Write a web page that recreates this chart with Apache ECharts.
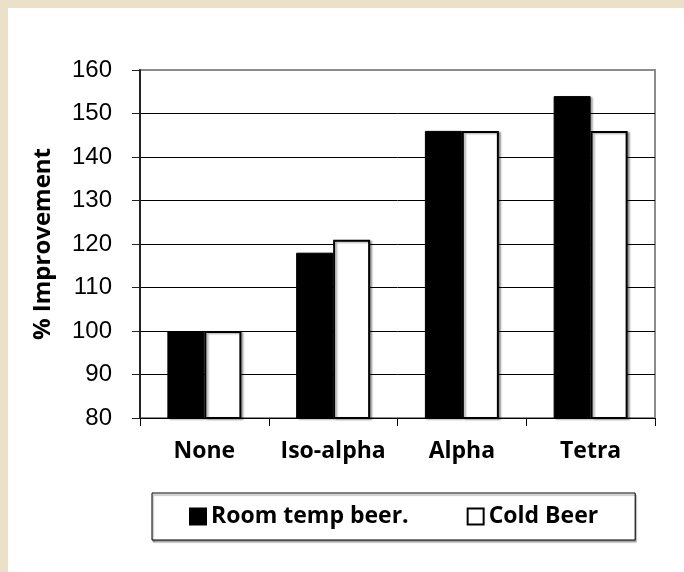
<!DOCTYPE html>
<html>
<head>
<meta charset="utf-8">
<script src="https://cdn.jsdelivr.net/npm/echarts@6/dist/echarts.min.js"></script>
<style>
  html, body { margin: 0; padding: 0; background: #ebe0c8; }
  #chart { position: absolute; left: 8px; top: 8px; width: 676px; height: 564px; background: #fff; }
</style>
</head>
<body>
<div id="chart"></div>
<script>
// data
const categories = ['None', 'Iso-alpha', 'Alpha', 'Tetra'];
const roomTemp = [100, 118, 146, 154];
const coldBeer = [100, 121, 146, 146];

const myChart = echarts.init(document.getElementById('chart'));

const barShadow = {
  shadowColor: 'rgba(0,0,0,0.35)',
  shadowOffsetX: 2,
  shadowOffsetY: 1,
  shadowBlur: 2
};

const option = {
  animation: false,
  grid: {
    left: 132, top: 62, right: 29, bottom: 154,
    show: true, borderColor: '#8c8c8c', borderWidth: 2
  },
  legend: {
    left: 144, top: 485,
    padding: [12, 37],
    borderColor: '#000', borderWidth: 1,
    shadowColor: 'rgba(0,0,0,0.4)', shadowOffsetX: 1, shadowOffsetY: 2, shadowBlur: 1,
    backgroundColor: '#fff',
    itemWidth: 16, itemHeight: 16, itemGap: 58,
    icon: 'rect',
    textStyle: { fontFamily: 'Open Sans', fontWeight: 'bold', fontSize: 23, color: '#000' },
    data: ['Room temp beer.', 'Cold Beer']
  },
  xAxis: {
    type: 'category',
    data: categories,
    axisLine: { lineStyle: { color: '#000', width: 1 } },
    axisTick: { show: true, length: 8, lineStyle: { color: '#000' } },
    axisLabel: { interval: 0, margin: 22, fontFamily: 'Open Sans', fontWeight: 'bold', fontSize: 23, color: '#000' }
  },
  yAxis: {
    type: 'value',
    min: 80, max: 160, interval: 10,
    name: '% Improvement',
    nameLocation: 'middle',
    nameRotate: 90,
    nameGap: 85,
    nameTextStyle: { fontFamily: 'Open Sans', fontWeight: 'bold', fontSize: 24, color: '#000' },
    axisLine: { show: true, lineStyle: { color: '#222', width: 2 } },
    axisTick: { show: true, length: 8, lineStyle: { color: '#222' } },
    axisLabel: { margin: 28, fontFamily: 'Liberation Sans', fontSize: 24, color: '#000' },
    splitLine: { show: true, showMaxLine: false, lineStyle: { color: '#000', width: 1 } }
  },
  series: [
    {
      name: 'Room temp beer.',
      type: 'bar',
      data: roomTemp,
      barWidth: 37,
      barGap: '0%',
      itemStyle: Object.assign({ color: '#000', borderColor: '#000', borderWidth: 1 }, barShadow)
    },
    {
      name: 'Cold Beer',
      type: 'bar',
      data: coldBeer,
      barWidth: 37,
      itemStyle: Object.assign({ color: '#fff', borderColor: '#000', borderWidth: 2 }, barShadow)
    }
  ]
};

myChart.setOption(option);
</script>
</body>
</html>
